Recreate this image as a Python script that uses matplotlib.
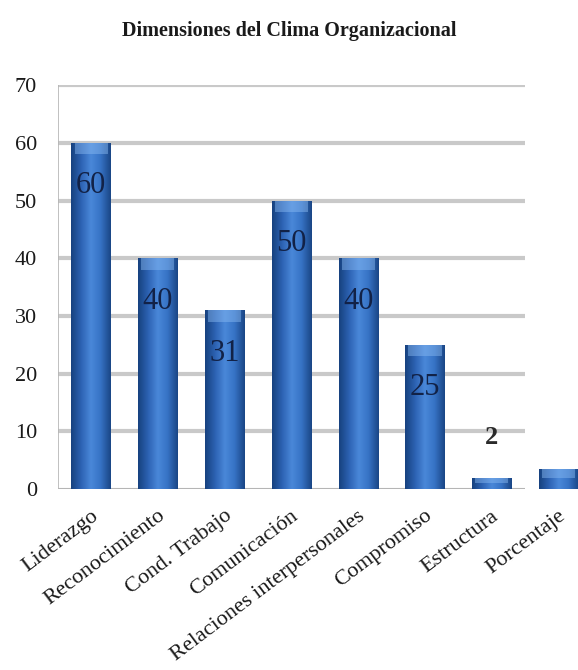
import numpy as np
import matplotlib.pyplot as plt
from matplotlib.colors import LinearSegmentedColormap
from matplotlib.transforms import ScaledTranslation

plt.rcParams['font.family'] = ['Liberation Serif', 'DejaVu Serif']

# Data
categorias = ['Liderazgo', 'Reconocimiento', 'Cond. Trabajo', 'Comunicación',
              'Relaciones interpersonales', 'Compromiso', 'Estructura', 'Porcentaje']
valores = [60, 40, 31, 50, 40, 25, 2, 3.5]
etiquetas = ['60', '40', '31', '50', '40', '25', '2', '']
y_ticks = [0, 10, 20, 30, 40, 50, 60, 70]

fig = plt.figure(figsize=(5.78, 6.70), dpi=100)
ax = fig.add_axes([0.100, 0.270, 0.924, 0.603])

x = np.arange(len(categorias))
ancho = 0.59
n_grid = 7  # grid / axis only spans the first 7 categories

# grid lines and axis lines drawn by hand (they stop before the last category)
for t in y_ticks[1:]:
    ax.hlines(t, -0.5, n_grid - 0.5, color='#c9c9c9', lw=3, zorder=1)
ax.hlines(0, -0.5, n_grid - 0.5, color='#b5b5b5', lw=1.5, zorder=1)
ax.vlines(-0.5, 0, 70, color='#b5b5b5', lw=1.2, zorder=1)

bars = ax.bar(x, valores, width=ancho, color='#2f66b8', zorder=2)

# cylinder-like shading: dark edges, light middle, lighter cap on top
cmap = LinearSegmentedColormap.from_list(
    'cil', ['#17427f', '#2c62b3', '#4a88d9', '#3672c4', '#1a4686'])
perfil = np.linspace(0, 1, 64)[None, :]
for b, v in zip(bars, valores):
    x0 = b.get_x()
    w = b.get_width()
    im = ax.imshow(perfil, cmap=cmap, aspect='auto', zorder=3,
                   extent=(x0, x0 + w, 0, v), origin='lower')
    im.set_clip_path(b)
    cap = min(2.0, v * 0.45)
    ax.fill_between([x0 + w * 0.08, x0 + w * 0.92], v - cap, v,
                    color='#8cbcf3', alpha=0.45, lw=0, zorder=4)

# value labels
for xi, v, lab in zip(x, valores, etiquetas):
    if not lab:
        continue
    if v > 10:
        ax.annotate(lab, (xi, v), xytext=(0, -31), textcoords='offset points',
                    ha='center', va='center', fontsize=22, color='#122247',
                    zorder=5)
    else:
        ax.annotate(lab, (xi, v), xytext=(0, 29), textcoords='offset points',
                    ha='center', va='center', fontsize=19, color='#2a2a2a',
                    fontweight='bold', zorder=5)

ax.set_xlim(-0.5, len(categorias) - 0.5)
ax.set_ylim(0, 70)
ax.set_yticks(y_ticks)
ax.set_yticklabels([str(t) for t in y_ticks], fontsize=16, color='#1a1a1a')
ax.set_xticks(x)
ax.set_xticklabels(categorias, rotation=37, ha='right', va='center',
                   rotation_mode='anchor', fontsize=16, color='#1a1a1a')
ax.tick_params(axis='y', length=0, pad=15)
ax.tick_params(axis='x', length=0, pad=18)
desplaza = ScaledTranslation(5 / 100, 0, fig.dpi_scale_trans)
for lbl in ax.get_xticklabels():
    lbl.set_transform(lbl.get_transform() + desplaza)
for s in ax.spines.values():
    s.set_visible(False)

fig.text(0.5, 0.953, 'Dimensiones del Clima Organizacional', ha='center',
         va='center', fontsize=14.5, fontweight='bold', color='#1a1a1a')

fig.savefig('out.png', dpi=100)
